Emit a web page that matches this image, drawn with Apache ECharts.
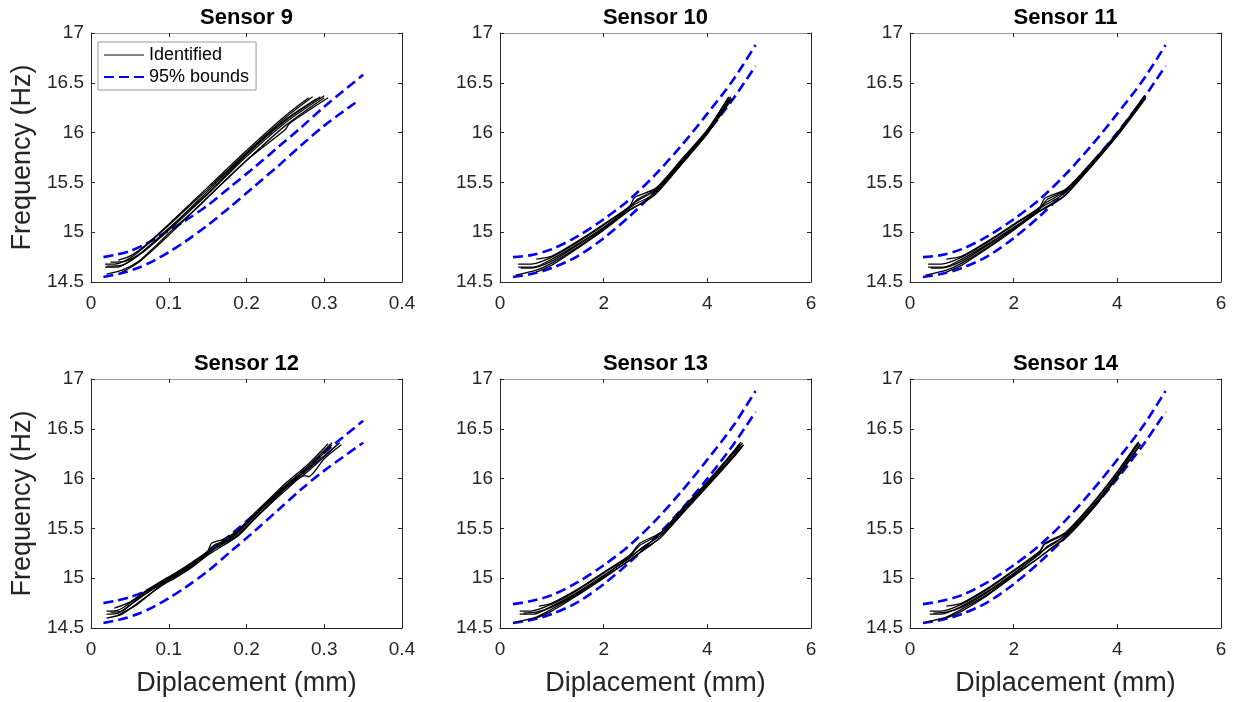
<!DOCTYPE html>
<html><head><meta charset="utf-8">
<script src="https://cdn.jsdelivr.net/npm/echarts@6/dist/echarts.min.js"></script>
<style>html,body{margin:0;padding:0;background:#fff}#c{width:1239px;height:702px}</style>
</head><body><div id="c"></div>
<script>
// ---------- tick labels ----------
const xTicksSmall = ['0','0.1','0.2','0.3','0.4'];
const xTicksLarge = ['0','2','4','6'];
const yTicks = ['14.5','15','15.5','16','16.5','17'];

// ---------- titles ----------
const panelTitles = ['Sensor 9','Sensor 10','Sensor 11','Sensor 12','Sensor 13','Sensor 14'];

// ---------- Sensor 9 ----------
const s9Identified = [
 [[0.018,14.65],[0.035,14.65],[0.05,14.71],[0.07,14.83],[0.1,15.04],[0.15,15.39],[0.2,15.78],[0.25,16.12],[0.295,16.36]],
 [[0.018,14.68],[0.03,14.68],[0.05,14.74],[0.07,14.86],[0.1,15.07],[0.15,15.43],[0.2,15.8],[0.25,16.15],[0.285,16.36]],
 [[0.035,14.72],[0.05,14.76],[0.07,14.87],[0.1,15.08],[0.15,15.45],[0.2,15.82],[0.25,16.17],[0.28,16.35]],
 [[0.02,14.58],[0.04,14.62],[0.06,14.7],[0.08,14.84],[0.1,14.99],[0.14,15.27],[0.145,15.31],[0.2,15.72],[0.25,16.07],[0.3,16.35]],
 [[0.04,14.6],[0.06,14.69],[0.1,14.97],[0.15,15.35],[0.2,15.72],[0.25,16.03],[0.255,16.09],[0.305,16.35]],
 [[0.02,14.66],[0.04,14.67],[0.06,14.76],[0.1,15.02],[0.15,15.38],[0.2,15.76],[0.25,16.1],[0.3,16.37]],
 [[0.025,14.7],[0.045,14.71],[0.07,14.82],[0.1,15.03],[0.15,15.41],[0.2,15.79],[0.25,16.13],[0.29,16.34]]
];
const s9Upper = [[0.016,14.75],[0.03,14.77],[0.05,14.81],[0.07,14.88],[0.09,14.97],[0.12,15.11],[0.15,15.27],[0.18,15.46],[0.21,15.65],[0.24,15.85],[0.27,16.05],[0.3,16.26],[0.35,16.58]];
const s9Lower = [[0.016,14.55],[0.04,14.59],[0.06,14.64],[0.08,14.71],[0.1,14.8],[0.12,14.9],[0.15,15.07],[0.18,15.26],[0.21,15.46],[0.24,15.66],[0.27,15.87],[0.3,16.07],[0.34,16.3]];

// ---------- Sensor 10 ----------
const s10Identified = [
 [[0.35,14.65],[0.65,14.65],[1.0,14.73],[1.5,14.88],[2.0,15.05],[2.45,15.22],[2.6,15.3],[3.0,15.42],[3.5,15.71],[4.0,16.01],[4.45,16.36]],
 [[0.35,14.68],[0.6,14.68],[1.0,14.75],[1.5,14.9],[2.0,15.07],[2.5,15.25],[2.65,15.33],[3.0,15.43],[3.5,15.72],[4.0,16.02],[4.42,16.36]],
 [[0.7,14.73],[1.0,14.76],[1.5,14.91],[2.0,15.08],[2.5,15.26],[2.6,15.35],[3.0,15.44],[3.5,15.73],[4.0,16.03],[4.4,16.35]],
 [[0.3,14.57],[0.7,14.62],[1.0,14.69],[1.5,14.85],[2.0,15.03],[2.5,15.22],[2.7,15.28],[3.0,15.38],[3.5,15.68],[4.0,15.99],[4.48,16.34]],
 [[0.7,14.6],[1.0,14.67],[1.5,14.84],[2.0,15.02],[2.55,15.24],[2.8,15.31],[3.0,15.39],[3.5,15.69],[4.0,15.99],[4.46,16.35]],
 [[0.4,14.64],[0.6,14.64],[1.0,14.71],[1.5,14.87],[2.0,15.04],[2.6,15.28],[2.9,15.36],[3.5,15.7],[4.0,16.0],[4.44,16.33]]
];
const s10Upper = [[0.25,14.75],[0.6,14.77],[1.0,14.83],[1.5,14.96],[2.0,15.13],[2.5,15.33],[3.0,15.58],[3.5,15.87],[4.0,16.19],[4.5,16.53],[4.93,16.88]];
const s10Lower = [[0.25,14.55],[0.6,14.58],[1.0,14.64],[1.5,14.76],[2.0,14.94],[2.5,15.16],[3.0,15.41],[3.5,15.69],[4.0,16.0],[4.5,16.34],[4.93,16.67]];

// ---------- Sensor 11 ----------
const s11Identified = [
 [[0.35,14.65],[0.65,14.65],[1.0,14.73],[1.5,14.88],[2.0,15.05],[2.45,15.2],[2.6,15.29],[3.0,15.41],[3.5,15.68],[4.0,15.98],[4.53,16.36]],
 [[0.35,14.68],[0.6,14.68],[1.0,14.75],[1.5,14.9],[2.0,15.07],[2.5,15.24],[2.65,15.33],[3.0,15.42],[3.5,15.69],[4.0,15.99],[4.52,16.37]],
 [[0.7,14.73],[1.0,14.76],[1.5,14.91],[2.0,15.08],[2.5,15.25],[2.6,15.34],[3.0,15.43],[3.5,15.7],[4.0,16.0],[4.5,16.35]],
 [[0.3,14.57],[0.7,14.62],[1.0,14.69],[1.5,14.85],[2.0,15.03],[2.5,15.21],[2.75,15.28],[3.0,15.37],[3.5,15.66],[4.0,15.97],[4.55,16.35]],
 [[0.7,14.6],[1.0,14.67],[1.5,14.84],[2.0,15.02],[2.55,15.23],[2.85,15.32],[3.0,15.38],[3.5,15.67],[4.0,15.97],[4.54,16.34]],
 [[0.4,14.64],[0.6,14.64],[1.0,14.71],[1.5,14.87],[2.0,15.04],[2.6,15.27],[2.9,15.36],[3.5,15.68],[4.0,15.98],[4.52,16.35]]
];
const s11Upper = [[0.25,14.75],[0.6,14.77],[1.0,14.83],[1.5,14.96],[2.0,15.13],[2.5,15.33],[3.0,15.58],[3.5,15.87],[4.0,16.19],[4.5,16.53],[4.93,16.88]];
const s11Lower = [[0.25,14.55],[0.6,14.58],[1.0,14.64],[1.5,14.76],[2.0,14.94],[2.5,15.16],[3.0,15.41],[3.5,15.69],[4.0,16.0],[4.5,16.34],[4.93,16.67]];

// ---------- Sensor 12 ----------
const s12Identified = [
 [[0.02,14.64],[0.035,14.65],[0.05,14.73],[0.07,14.84],[0.09,14.94],[0.11,15.03],[0.13,15.13],[0.15,15.25],[0.155,15.31],[0.17,15.36],[0.19,15.46],[0.21,15.62],[0.23,15.77],[0.25,15.91],[0.28,16.1],[0.32,16.36]],
 [[0.02,14.67],[0.035,14.68],[0.05,14.75],[0.07,14.86],[0.09,14.96],[0.11,15.05],[0.13,15.15],[0.15,15.27],[0.16,15.34],[0.17,15.37],[0.19,15.48],[0.21,15.64],[0.23,15.79],[0.25,15.93],[0.28,16.13],[0.31,16.36]],
 [[0.03,14.7],[0.05,14.76],[0.07,14.87],[0.09,14.97],[0.11,15.06],[0.13,15.16],[0.15,15.27],[0.155,15.35],[0.17,15.39],[0.19,15.49],[0.21,15.65],[0.23,15.8],[0.25,15.95],[0.28,16.15],[0.305,16.35]],
 [[0.02,14.6],[0.04,14.64],[0.06,14.75],[0.09,14.92],[0.11,15.01],[0.13,15.11],[0.15,15.23],[0.16,15.28],[0.19,15.43],[0.21,15.59],[0.23,15.74],[0.25,15.88],[0.275,16.03],[0.28,16.02],[0.3,16.2],[0.322,16.34]],
 [[0.035,14.63],[0.06,14.74],[0.09,14.93],[0.11,15.02],[0.13,15.12],[0.15,15.24],[0.16,15.3],[0.19,15.44],[0.21,15.6],[0.23,15.75],[0.25,15.9],[0.28,16.08],[0.3,16.22],[0.318,16.35]],
 [[0.025,14.66],[0.04,14.67],[0.06,14.79],[0.09,14.95],[0.11,15.04],[0.13,15.14],[0.15,15.26],[0.17,15.35],[0.19,15.47],[0.21,15.63],[0.23,15.78],[0.25,15.92],[0.28,16.11],[0.31,16.34]]
];
const s12Upper = [[0.016,14.75],[0.03,14.77],[0.05,14.81],[0.07,14.87],[0.09,14.95],[0.12,15.09],[0.15,15.25],[0.18,15.44],[0.21,15.64],[0.24,15.85],[0.27,16.05],[0.3,16.26],[0.35,16.58]];
const s12Lower = [[0.016,14.55],[0.04,14.59],[0.06,14.64],[0.08,14.71],[0.1,14.8],[0.12,14.9],[0.15,15.07],[0.18,15.27],[0.21,15.47],[0.24,15.68],[0.27,15.89],[0.3,16.08],[0.35,16.36]];

// ---------- Sensor 13 ----------
const s13Identified = [
 [[0.38,14.64],[0.65,14.64],[1.0,14.72],[1.5,14.86],[2.0,15.03],[2.5,15.2],[2.75,15.31],[3.1,15.43],[3.5,15.66],[4.0,15.94],[4.5,16.23],[4.68,16.36]],
 [[0.38,14.67],[0.6,14.67],[1.0,14.74],[1.5,14.88],[2.0,15.05],[2.5,15.22],[2.7,15.33],[3.1,15.45],[3.5,15.68],[4.0,15.96],[4.5,16.26],[4.65,16.37]],
 [[0.75,14.72],[1.0,14.75],[1.5,14.89],[2.0,15.06],[2.5,15.23],[2.7,15.35],[3.1,15.46],[3.5,15.69],[4.0,15.97],[4.5,16.27],[4.62,16.35]],
 [[0.3,14.56],[0.7,14.61],[1.0,14.69],[1.5,14.84],[2.0,15.01],[2.5,15.18],[2.8,15.3],[3.1,15.41],[3.5,15.64],[4.0,15.92],[4.5,16.21],[4.7,16.34]],
 [[0.7,14.6],[1.0,14.67],[1.5,14.83],[2.0,15.0],[2.5,15.18],[2.85,15.31],[3.1,15.41],[3.5,15.64],[4.0,15.93],[4.5,16.22],[4.68,16.33]],
 [[0.45,14.65],[0.7,14.66],[1.0,14.71],[1.5,14.85],[2.0,15.02],[2.6,15.25],[2.9,15.36],[3.5,15.66],[4.0,15.95],[4.5,16.25],[4.66,16.35]]
];
const s13Upper = [[0.25,14.74],[0.6,14.77],[1.0,14.83],[1.5,14.96],[2.0,15.13],[2.5,15.33],[3.0,15.58],[3.5,15.87],[4.0,16.19],[4.5,16.53],[4.93,16.88]];
const s13Lower = [[0.25,14.55],[0.6,14.58],[1.0,14.64],[1.5,14.76],[2.0,14.94],[2.5,15.16],[3.0,15.41],[3.5,15.69],[4.0,16.0],[4.5,16.34],[4.93,16.67]];

// ---------- Sensor 14 ----------
const s14Identified = [
 [[0.38,14.64],[0.6,14.64],[1.0,14.72],[1.5,14.87],[2.0,15.05],[2.5,15.24],[2.65,15.32],[3.0,15.43],[3.5,15.71],[4.0,16.04],[4.42,16.36]],
 [[0.38,14.67],[0.6,14.67],[1.0,14.74],[1.5,14.89],[2.0,15.07],[2.5,15.26],[2.6,15.34],[3.0,15.45],[3.5,15.73],[4.0,16.06],[4.4,16.36]],
 [[0.7,14.72],[1.0,14.75],[1.5,14.9],[2.0,15.08],[2.5,15.27],[2.6,15.35],[3.0,15.46],[3.5,15.74],[4.0,16.07],[4.38,16.35]],
 [[0.3,14.56],[0.7,14.61],[1.0,14.69],[1.5,14.84],[2.0,15.03],[2.5,15.21],[2.75,15.31],[3.0,15.4],[3.5,15.68],[4.0,16.01],[4.45,16.34]],
 [[0.7,14.6],[1.0,14.67],[1.5,14.83],[2.0,15.02],[2.5,15.21],[2.8,15.33],[3.0,15.41],[3.5,15.69],[4.0,16.02],[4.44,16.35]],
 [[0.45,14.65],[0.7,14.66],[1.0,14.71],[1.5,14.86],[2.0,15.04],[2.6,15.29],[2.9,15.39],[3.5,15.7],[4.0,16.03],[4.41,16.37]]
];
const s14Upper = [[0.25,14.74],[0.6,14.77],[1.0,14.83],[1.5,14.96],[2.0,15.13],[2.5,15.33],[3.0,15.58],[3.5,15.87],[4.0,16.19],[4.5,16.53],[4.93,16.88]];
const s14Lower = [[0.25,14.55],[0.6,14.58],[1.0,14.64],[1.5,14.76],[2.0,14.94],[2.5,15.16],[3.0,15.41],[3.5,15.69],[4.0,16.0],[4.5,16.34],[4.93,16.67]];

// ---------- build ----------
const FONT = "'Liberation Sans', Arial, Helvetica, sans-serif";
const AX = '#262626';
const identifiedSets = [s9Identified, s10Identified, s11Identified, s12Identified, s13Identified, s14Identified];
const upperSets = [s9Upper, s10Upper, s11Upper, s12Upper, s13Upper, s14Upper];
const lowerSets = [s9Lower, s10Lower, s11Lower, s12Lower, s13Lower, s14Lower];
const xTickSets = [xTicksSmall, xTicksLarge, xTicksLarge, xTicksSmall, xTicksLarge, xTicksLarge];

const colLeft = [91, 500, 910];
const rowTop = [33, 379];
const GW = 311, GH = 249;

const grids = [], xAxes = [], yAxes = [], titles = [], series = [];
const yMin = Number(yTicks[0]), yMax = Number(yTicks[yTicks.length-1]);
const yInt = Number(yTicks[1]) - Number(yTicks[0]);

function axisBase(i, color) {
  return {
    type: 'value', gridIndex: i,
    axisLine: {show: true, onZero: false, lineStyle: {color: color, width: 1}},
    axisTick: {show: true, inside: true, length: 4, lineStyle: {color: AX, width: 1}},
    splitLine: {show: false}
  };
}

for (let i = 0; i < 6; i++) {
  const r = Math.floor(i / 3), c = i % 3;
  const left = colLeft[c], top = rowTop[r];
  grids.push({left: left, top: top, width: GW, height: GH, containLabel: false, show: false});
  const xt = xTickSets[i];
  const xMin = Number(xt[0]), xMax = Number(xt[xt.length-1]), xInt = Number(xt[1]) - Number(xt[0]);
  xAxes.push(Object.assign(axisBase(i, AX), {
    position: 'bottom', min: xMin, max: xMax, interval: xInt,
    axisLabel: {show: true, color: AX, fontSize: 19, fontFamily: FONT, margin: 12,
      formatter: v => String(Math.round(v*1000)/1000)},
    name: r === 1 ? 'Diplacement (mm)' : '', nameLocation: 'middle', nameGap: 42,
    nameTextStyle: {color: AX, fontSize: 27, fontFamily: FONT, verticalAlign: 'top'}
  }));
  xAxes.push(Object.assign(axisBase(i, '#9a9a9a'), {
    position: 'top', min: xMin, max: xMax, interval: xInt, axisLabel: {show: false}
  }));
  yAxes.push(Object.assign(axisBase(i, AX), {
    position: 'left', min: yMin, max: yMax, interval: yInt,
    axisLabel: {show: true, color: AX, fontSize: 19, fontFamily: FONT, margin: 7},
    name: c === 0 ? 'Frequency (Hz)' : '', nameLocation: 'middle', nameGap: 55, nameRotate: 90,
    nameTextStyle: {color: AX, fontSize: 27, fontFamily: FONT}
  }));
  yAxes.push(Object.assign(axisBase(i, AX), {
    position: 'right', min: yMin, max: yMax, interval: yInt, axisLabel: {show: false}
  }));
  titles.push({
    text: panelTitles[i], left: left + GW/2, top: r === 0 ? 7 : 353, textAlign: 'center', padding: 0,
    textStyle: {fontSize: 22, fontWeight: 'bold', color: '#000', fontFamily: FONT}
  });
  [upperSets[i], lowerSets[i]].forEach(d => series.push({
    type: 'line', name: '95% bounds', xAxisIndex: 2*i, yAxisIndex: 2*i, data: d,
    symbol: 'none', smooth: 0.3, silent: true,
    lineStyle: {color: '#0000FF', width: 2.6, type: [10, 5]}, itemStyle: {color: '#0000FF'}
  }));
  identifiedSets[i].forEach(d => series.push({
    type: 'line', name: 'Identified', xAxisIndex: 2*i, yAxisIndex: 2*i, data: d,
    symbol: 'none', smooth: 0.25, silent: true,
    lineStyle: {color: '#000000', width: 1.3}, itemStyle: {color: '#000000'}
  }));
}

const chart = echarts.init(document.getElementById('c'), null, {renderer: 'canvas'});
chart.setOption({
  animation: false,
  backgroundColor: '#fff',
  title: titles,
  grid: grids,
  xAxis: xAxes,
  yAxis: yAxes,
  legend: {
    data: [
      {name: 'Identified', lineStyle: {color: '#5a5a5a', width: 1.5}},
      {name: '95% bounds'}
    ],
    orient: 'vertical', left: 98, top: 42,
    backgroundColor: '#fff', borderColor: '#9a9a9a', borderWidth: 1, padding: [4, 7, 4, 5],
    itemGap: 4, itemWidth: 40, itemHeight: 20, selectedMode: false,
    itemStyle: {opacity: 0},
    textStyle: {fontSize: 18, color: '#000', fontFamily: FONT}
  },
  series: series
});
</script></body></html>
